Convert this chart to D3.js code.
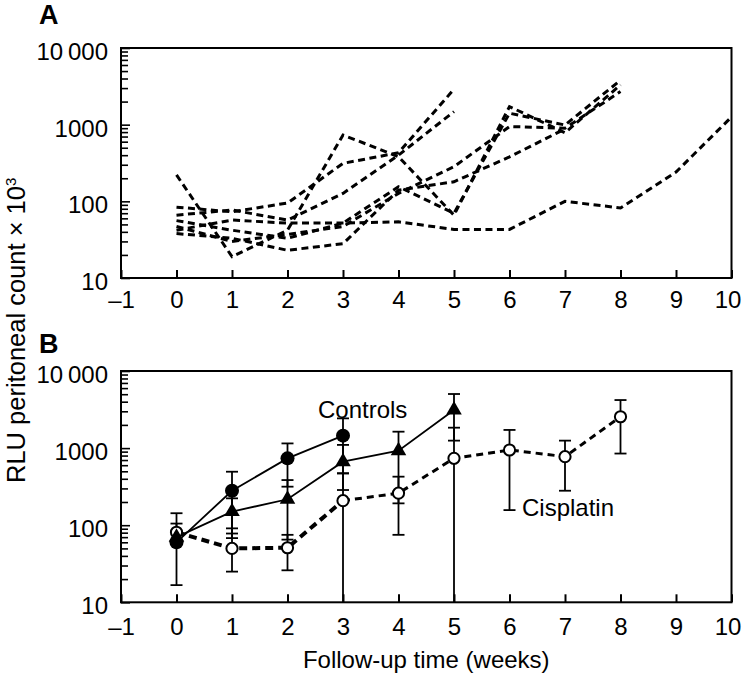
<!DOCTYPE html>
<html><head><meta charset="utf-8">
<script src="https://cdn.jsdelivr.net/npm/d3@7"></script>
<style>
body{margin:0;background:#fff}
svg{display:block}
text{font-family:"Liberation Sans",Arial,Helvetica,sans-serif;fill:#000}
</style>
</head><body>
<svg id="chart" width="743" height="675"></svg>
<script>
// ---------- DATA ----------
const weeks = [0,1,2,3,4,5,6,7,8,9,10];
// Panel A: individual mice (RLU x 10^3), index = week
const mouse1 = [221, 19, 42, 733, 382, 66, 1720, 785, 3300];
const mouse2 = [84, 73, 95, 313, 430, 2900];
const mouse3 = [66, 77, 57, 127, 400, 1480];
const mouse4 = [56, 42, 33, 52, 155, 70, 1410, 990, 3800];
const mouse5 = [47, 30, 37, 47, 127, 283, 945, 900, 2700];
const mouse6 = [38, 33, 23, 28, 140, 180, 380, 880];
const mouse7 = [42, 57, 52, 52, 54, 43, 43, 100, 82, 241, 1260];

// Panel B: group means and error limits
const ctrlCircleWeeks = [0,1,2,3];
const ctrlCircle   = [60, 280, 736, 1450];
const ctrlCircleLo = [16.7, 68, 316, 470];
const ctrlCircleHi = [105, 494, 1150, 2430];

const ctrlTriWeeks = [0,1,2,3,4,5];
const ctrlTri   = [70, 150, 217, 667, 925, 3120];
const ctrlTriLo = [70, 78, 65, 286, 192, 1250];
const ctrlTriHi = [70, 223, 385, 1100, 1633, 5030];

const cisWeeks = [0,1,2,3,4,5,6,7,8];
const cis   = [81, 50, 51, 208, 260, 736, 945, 775, 2550];
const cisLo = [81, 25, 26, 1, 75, 1, 157, 280, 850];
const cisHi = [143, 91, 75, 471, 426, 1840, 1720, 1250, 4200];

const xTickValues = [-1,0,1,2,3,4,5,6,7,8,9,10];
const xTickLabels = ["\u20131","0","1","2","3","4","5","6","7","8","9","10"];
const yDecades = [10,100,1000,10000];
const yDecadeLabels = ["10","100","1000","10\u2009000"];

// ---------- LAYOUT ----------
const svg = d3.select("#chart");
const left = 121, right = 731.5;
const panels = [
  {top: 48, bottom: 278, label: "A", labelY: 24, xPad: 13},
  {top: 371, bottom: 602.3, label: "B", labelY: 353, xPad: 16}
];
const x = d3.scaleLinear().domain([-1,10]).range([left,right]);
const FS = 24;

function makeY(p){ return d3.scaleLog().domain([10,10000]).range([p.bottom,p.top]); }

function drawFrame(p, y){
  const g = svg.append("g");
  const xa = d3.axisBottom(x).tickValues(xTickValues)
    .tickFormat((d,i)=>xTickLabels[i]).tickSizeInner(-8).tickSizeOuter(0).tickPadding(p.xPad);
  const gx = g.append("g").attr("transform",`translate(0,${p.bottom})`).call(xa);
  gx.select(".domain").remove();
  gx.selectAll("line").attr("stroke","#000").attr("stroke-width",2);
  gx.selectAll("text").attr("font-size",FS).attr("font-family",'"Liberation Sans",Arial,sans-serif')
    .attr("dx", d => d === 10 ? -4 : 0);
  const ya = d3.axisLeft(y).tickValues(y.ticks())
    .tickFormat(d => { const i = yDecades.indexOf(d); return i>=0 ? yDecadeLabels[i] : ""; })
    .tickSizeInner(-7).tickSizeOuter(0).tickPadding(13);
  const gy = g.append("g").attr("transform",`translate(${left},0)`).call(ya);
  gy.select(".domain").remove();
  gy.selectAll("line").attr("stroke","#000").attr("stroke-width",1.6)
    .attr("x2", d => yDecades.includes(d) ? 9 : 7);
  gy.selectAll("text").attr("font-size",FS).attr("dy","0.48em")
    .attr("font-family",'"Liberation Sans",Arial,sans-serif');
  g.append("rect").attr("x",left).attr("y",p.top).attr("width",right-left).attr("height",p.bottom-p.top)
    .attr("fill","none").attr("stroke","#000").attr("stroke-width",2);
  svg.append("text").attr("x",39).attr("y",p.labelY).attr("font-size",27).attr("font-weight","bold").text(p.label);
}

// ---------- PANEL A ----------
const pA = panels[0], yA = makeY(pA);
drawFrame(pA, yA);
const lineA = d3.line().x((d,i)=>x(weeks[i])).y(d=>yA(d));
[mouse1,mouse2,mouse3,mouse4,mouse5,mouse6,mouse7].forEach(s=>{
  svg.append("path").attr("d",lineA(s)).attr("fill","none").attr("stroke","#000")
    .attr("stroke-width",3).attr("stroke-dasharray","7,4.5");
});

// ---------- PANEL B ----------
const pB = panels[1], yB = makeY(pB);
drawFrame(pB, yB);
const gB = svg.append("g");
function errorBars(wk, vals, lo, hi){
  wk.forEach((w,i)=>{
    const cx = x(w);
    const yLo = lo[i] < 10 ? pB.bottom : yB(lo[i]);
    const yHi = yB(hi[i]);
    gB.append("line").attr("x1",cx).attr("x2",cx).attr("y1",yLo).attr("y2",yHi)
      .attr("stroke","#000").attr("stroke-width",1.8);
    if (hi[i] !== vals[i]) gB.append("line").attr("x1",cx-6).attr("x2",cx+6).attr("y1",yHi).attr("y2",yHi)
      .attr("stroke","#000").attr("stroke-width",1.8);
    if (lo[i] >= 10 && lo[i] !== vals[i]) gB.append("line").attr("x1",cx-6).attr("x2",cx+6).attr("y1",yLo).attr("y2",yLo)
      .attr("stroke","#000").attr("stroke-width",1.8);
  });
}
errorBars(ctrlCircleWeeks, ctrlCircle, ctrlCircleLo, ctrlCircleHi);
errorBars(ctrlTriWeeks, ctrlTri, ctrlTriLo, ctrlTriHi);
errorBars(cisWeeks, cis, cisLo, cisHi);

const lineB = (wk) => d3.line().x((d,i)=>x(wk[i])).y(d=>yB(d));
gB.append("path").attr("d",lineB(ctrlCircleWeeks)(ctrlCircle)).attr("fill","none").attr("stroke","#000").attr("stroke-width",1.8);
gB.append("path").attr("d",lineB(ctrlTriWeeks)(ctrlTri)).attr("fill","none").attr("stroke","#000").attr("stroke-width",1.8);
gB.append("path").attr("d",lineB(cisWeeks.slice(0,4))(cis.slice(0,4))).attr("fill","none").attr("stroke","#000")
  .attr("stroke-width",4).attr("stroke-dasharray","8,5");
gB.append("path").attr("d",lineB(cisWeeks.slice(3))(cis.slice(3))).attr("fill","none").attr("stroke","#000")
  .attr("stroke-width",3).attr("stroke-dasharray","7,5");

gB.selectAll(".oc").data(cis).enter().append("circle")
  .attr("cx",(d,i)=>x(cisWeeks[i])).attr("cy",d=>yB(d)).attr("r",5.6)
  .attr("fill","#fff").attr("stroke","#000").attr("stroke-width",2);
gB.selectAll(".tri").data(ctrlTri).enter().append("path")
  .attr("d",d3.symbol(d3.symbolTriangle,105))
  .attr("transform",(d,i)=>`translate(${x(ctrlTriWeeks[i])},${yB(d)})`).attr("fill","#000");
gB.selectAll(".fc").data(ctrlCircle).enter().append("circle")
  .attr("cx",(d,i)=>x(ctrlCircleWeeks[i])).attr("cy",d=>yB(d)).attr("r",7).attr("fill","#000");

gB.append("text").attr("x",318).attr("y",418).attr("font-size",FS).text("Controls");
gB.append("text").attr("x",522).attr("y",516).attr("font-size",FS).text("Cisplatin");

svg.append("text").attr("x",(left+right)/2).attr("y",668).attr("text-anchor","middle")
  .attr("font-size",FS).text("Follow-up time (weeks)");
const yt = svg.append("text").attr("transform","translate(25,483) rotate(-90)").attr("font-size",25.5);
yt.append("tspan").text("RLU peritoneal count \u00d7 10");
yt.append("tspan").attr("font-size",15).attr("dy","-9").text("3");
</script>
</body></html>
